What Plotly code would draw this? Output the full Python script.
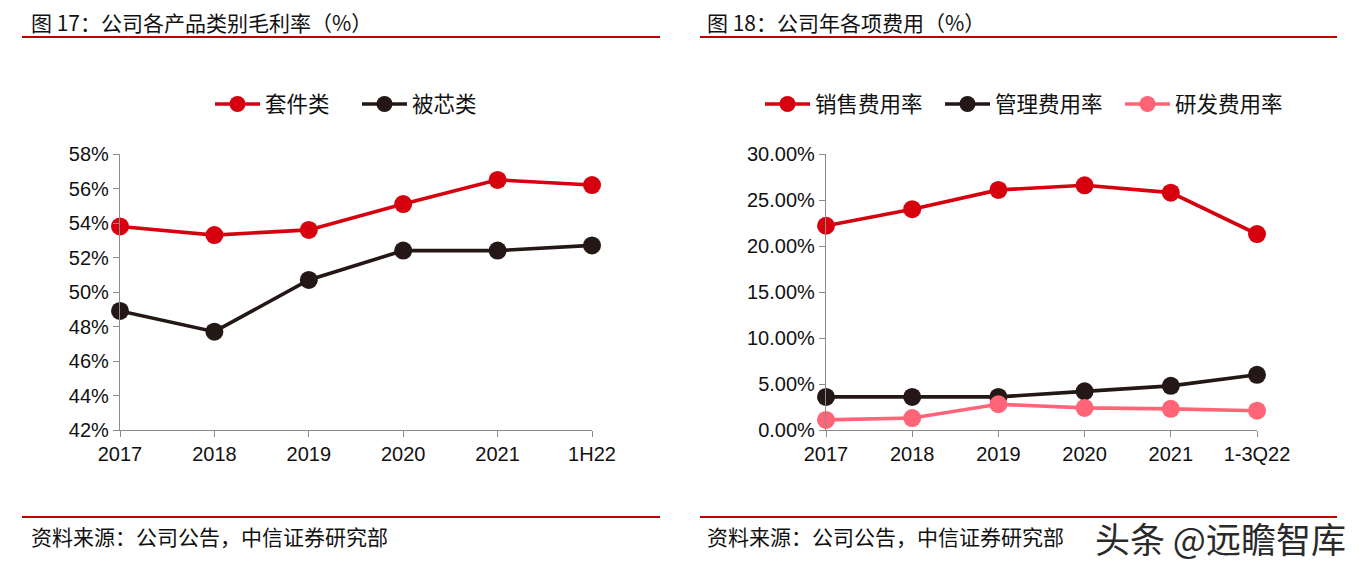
import plotly.graph_objects as go

W, H = 1362, 570

# ---- data ----
left_cats = ["2017", "2018", "2019", "2020", "2021", "1H22"]
kit_margin = [53.8, 53.3, 53.6, 55.1, 56.5, 56.2]       # 套件类
core_margin = [48.9, 47.7, 50.7, 52.4, 52.4, 52.7]      # 被芯类

right_cats = ["2017", "2018", "2019", "2020", "2021", "1-3Q22"]
sales_rate = [22.2, 24.0, 26.1, 26.6, 25.8, 21.3]       # 销售费用率
admin_rate = [3.6, 3.6, 3.6, 4.2, 4.8, 6.0]             # 管理费用率
rd_rate = [1.1, 1.3, 2.8, 2.4, 2.3, 2.1]                # 研发费用率

RED = "#D7000F"
BLACK = "#231815"
PINK = "#FF6577"
AXIS = "#8C8C8C"
CJK = "Noto Sans CJK SC"
NUM = "Liberation Sans, Arial"


def px(x):
    return x / W


def py(y):
    return 1 - y / H


fig = go.Figure()


def add_line(x, y, name, color, xa, ya, legend):
    fig.add_trace(go.Scatter(
        x=x, y=y, name=name, mode="lines+markers",
        line=dict(color=color, width=3.6),
        marker=dict(color=color, size=18),
        xaxis=xa, yaxis=ya, legend=legend, cliponaxis=False,
    ))


add_line(left_cats, kit_margin, "套件类", RED, "x", "y", "legend")
add_line(left_cats, core_margin, "被芯类", BLACK, "x", "y", "legend")
add_line(right_cats, sales_rate, "销售费用率", RED, "x2", "y2", "legend2")
add_line(right_cats, admin_rate, "管理费用率", BLACK, "x2", "y2", "legend2")
add_line(right_cats, rd_rate, "研发费用率", PINK, "x2", "y2", "legend2")

ydom = [py(430), py(154)]
axis_common = dict(showline=True, linecolor=AXIS, linewidth=1.3, showgrid=False,
                   zeroline=False, ticks="outside", ticklen=6, tickcolor=AXIS,
                   automargin=False,
                   tickfont=dict(family=NUM, size=20, color="#111111"))

fig.update_layout(
    width=W, height=H,
    margin=dict(l=0, r=0, t=0, b=0, pad=0, autoexpand=False),
    paper_bgcolor="white", plot_bgcolor="white",
    showlegend=True,
    xaxis=dict(domain=[px(120), px(592)], type="category", range=[0, 5],
               anchor="y", **axis_common),
    yaxis=dict(domain=ydom, range=[42, 58], dtick=2, ticksuffix="%",
               anchor="x", **axis_common),
    xaxis2=dict(domain=[px(826), px(1257)], type="category", range=[0, 5],
                anchor="y2", **axis_common),
    yaxis2=dict(domain=ydom, range=[0, 30], dtick=5, tickformat=".2f",
                ticksuffix="%", anchor="x2", **axis_common),
    legend=dict(orientation="h", x=px(210), y=py(104), xanchor="left",
                yanchor="middle", itemwidth=45, entrywidth=87,
                entrywidthmode="pixels",
                font=dict(family=CJK, size=21.5, color="#111111"),
                bgcolor="rgba(0,0,0,0)"),
    legend2=dict(orientation="h", x=px(760), y=py(104), xanchor="left",
                 yanchor="middle", itemwidth=45, entrywidth=120,
                 entrywidthmode="pixels",
                 font=dict(family=CJK, size=21.5, color="#111111"),
                 bgcolor="rgba(0,0,0,0)"),
)

# titles, rules, sources
texts = [
    ("图 17：公司各产品类别毛利率（%）", 29, 22, 21),
    ("图 18：公司年各项费用（%）", 705, 22, 21),
    ("资料来源：公司公告，中信证券研究部", 29, 536, 21),
    ("资料来源：公司公告，中信证券研究部", 705, 536, 21),
]
for t, x, y, s in texts:
    fig.add_annotation(text=t, x=px(x), y=py(y), xref="paper", yref="paper",
                       xanchor="left", yanchor="middle", showarrow=False,
                       font=dict(family=CJK, size=s, color="#111111"))

fig.add_annotation(text="头条 @远瞻智库", x=px(1093), y=py(537), xref="paper",
                   yref="paper", xanchor="left", yanchor="middle", showarrow=False,
                   font=dict(family=CJK, size=35, color="#2a2a2a"))

for x0, x1 in [(22, 660), (700, 1337)]:
    for y in (37, 517):
        fig.add_shape(type="line", xref="paper", yref="paper",
                      x0=px(x0), x1=px(x1), y0=py(y), y1=py(y),
                      line=dict(color="#C00000", width=2))

fig.write_html("out.html", config={"displayModeBar": False},
               post_script="document.body.style.margin='0';document.body.style.padding='0';")
